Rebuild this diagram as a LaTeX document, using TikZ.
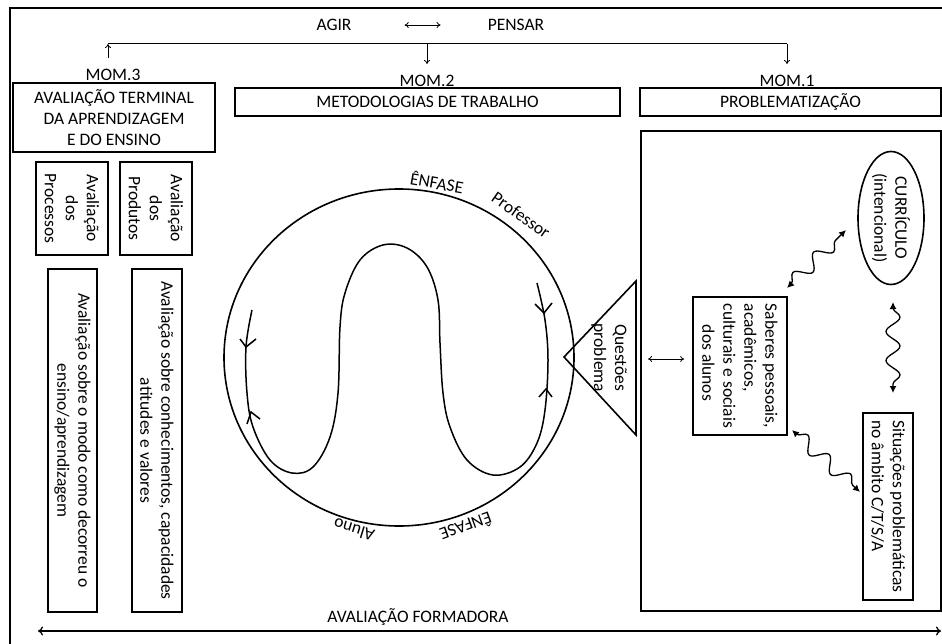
\documentclass[tikz,border=0pt]{standalone}
\usepackage{fontspec}
\setmainfont{Carlito}
\usetikzlibrary{arrows.meta,decorations.pathmorphing,shapes.geometric,calc}
\begin{document}
\begin{tikzpicture}[x=1pt,y=-1pt,
  txt/.style={font=\fontsize{17.5}{21}\selectfont, inner sep=0pt},
  box/.style={draw, line width=1.6pt, inner sep=0pt, txt, align=center},
  vbox/.style={box, rotate=-90},
  thinarrow/.style={line width=0.8pt, -{To[length=4pt,width=6pt]}},
  dblthin/.style={line width=0.8pt, {To[length=4pt,width=6pt]}-{To[length=4pt,width=6pt]}},
  wave/.style={line width=1.3pt, {Latex[length=7pt,width=7pt]}-{Latex[length=7pt,width=7pt]}, decorate,
    decoration={snake, amplitude=7pt, segment length=29pt, pre length=6pt, post length=6pt}},
  chev/.style={line width=1.5pt},
]
\useasboundingbox (0,0) rectangle (942,644);
\fill[white] (0,0) rectangle (942,644);
\draw[line width=2.8pt] (955,8) -- (10,8) -- (10,655);

% top
\node[txt] (agir) at (334,25) {AGIR};
\node[txt] (pensar) at (516,25) {PENSAR};
\draw[dblthin, shorten <=53pt, shorten >=47pt] (agir.east) -- (pensar.west);

\coordinate (j3) at (108,44);
\coordinate (j2) at (427,44);
\coordinate (j1) at (787,44);
\draw[line width=1pt] (j3) -- (j1);
\node[txt] (mom3) at (113,75) {MOM.3};
\node[txt] (mom2) at (427,81) {MOM.2};
\node[txt] (mom1) at (787,81) {MOM.1};
\coordinate (s3) at (108,58);
\draw[thinarrow] (s3) -- (j3);
\coordinate (e2) at (427,64);
\coordinate (e1) at (787,64);
\draw[thinarrow] (j2) -- (e2);
\draw[thinarrow] (j1) -- (e1);

% header boxes
\node[box, minimum width=202, minimum height=69] (term) at (114,117.5) {AVALIAÇÃO TERMINAL\\DA APRENDIZAGEM\\E DO ENSINO};
\node[box, minimum width=385, minimum height=28] (met) at (427.5,102) {METODOLOGIAS DE TRABALHO};
\node[box, minimum width=301, minimum height=28] (prob) at (790.5,102) {PROBLEMATIZAÇÃO};
\node[draw, line width=1.6pt, minimum width=300, minimum height=480, inner sep=0] (big) at (791,371) {};

% left column
\node[vbox, minimum width=93, minimum height=72] (proc) at (72,208.5) {Avaliação\\dos\\Processos};
\node[vbox, minimum width=93, minimum height=72] (prod) at (156,208.5) {Avaliação\\dos\\Produtos};
\node[vbox, minimum width=343, minimum height=49] (modo) at (72.5,440.5) {Avaliação sobre o modo como decorreu o\\ensino/aprendizagem};
\node[vbox, minimum width=343, minimum height=50] (conh) at (157,440.5) {Avaliação sobre conhecimentos, capacidades\\atitudes e valores};

% circle
\node[draw, ellipse, line width=1.6pt, minimum width=350, minimum height=337, inner sep=0] (circ) at (399,357.5) {};
\draw[line width=1.5pt] plot[smooth, tension=0.6] coordinates {
 (252,310) (246,347) (247,393) (253,427) (270,460) (292,473) (313,467) (330,437)
 (338,393) (340,327) (345,293) (360,260) (383,245) (407,248) (427,267) (438,300)
 (440,343) (443,393) (450,427) (467,460) (493,475) (520,467) (537,443) (545,410)
 (548,360) (545,320) (537,283)};
\draw[chev] (240,339) -- (246,347) -- (256,339);
\draw[chev] (247,424) -- (251,412) -- (260,419);
\draw[chev] (535,304) -- (544,313) -- (552,303);
\draw[chev] (539,397) -- (546,389) -- (552,397);
\node[txt, rotate=-10] (enf1) at (437,182) {ÊNFASE};
\node[txt, rotate=-35] (prof) at (521,215) {Professor};
\node[txt, rotate=200] (enf2) at (466,527) {ÊNFASE};
\node[txt, rotate=163] (alu) at (354,530) {Aluno};

% triangle
\draw[line width=1.6pt] (564,357) -- (636,281) -- (636,435) -- cycle;
\node[txt, rotate=-90, align=center] (qp) at (609,358) {Questões\\problema};
\coordinate (triR) at (636,359);

% right content
\node[draw, ellipse, line width=1.6pt, rotate=-90, minimum width=133, minimum height=66, inner sep=0, txt, align=center] (cur) at (891,218) {CURRÍCULO\\(intencional)};
\node[vbox, minimum width=138, minimum height=94, align=left] (sab) at (740,366) {Saberes pessoais,\\acadêmicos,\\culturais e sociais\\\hspace*{1.2em}dos alunos};
\node[vbox, minimum width=187, minimum height=50, align=left] (sit) at (888,506.5) {Situações problemáticas\\no âmbito C/T/S/A};

\draw[dblthin, shorten <=12pt, shorten >=8pt] (triR) -- (sab.south |- triR);

\coordinate (w1a) at (787,288); \coordinate (w1b) at (846,230);
\coordinate (w2a) at (893,302); \coordinate (w2b) at (893,393);
\coordinate (w3a) at (792,430); \coordinate (w3b) at (860,492);
\draw[wave] (w1a) -- (w1b);
\draw[wave] (w2a) -- (w2b);
\draw[wave] (w3a) -- (w3b);

% bottom
\node[txt] (form) at (418,617) {AVALIAÇÃO FORMADORA};
\coordinate (bl) at (38,631); \coordinate (br) at (941,631);
\draw[line width=1.3pt, {To[length=5pt,width=9pt]}-{To[length=5pt,width=9pt]}] (bl) -- (br);
\end{tikzpicture}
\end{document}
